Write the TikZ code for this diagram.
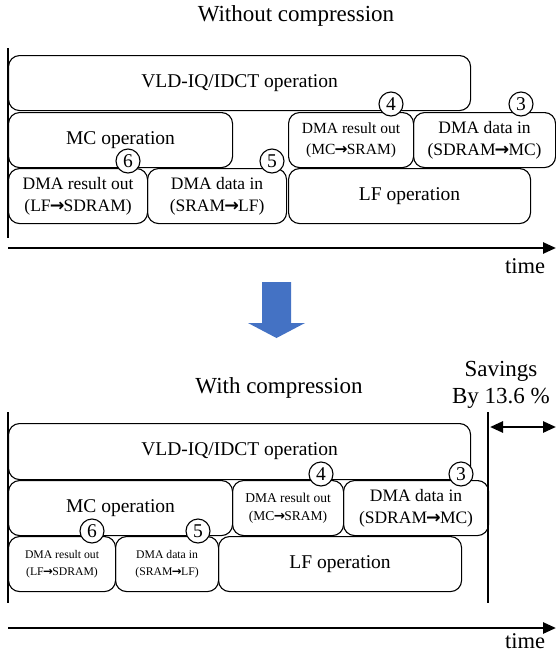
\documentclass[tikz,border=0pt]{standalone}
\usepackage{fontspec}
\setmainfont{Liberation Serif}
\newfontfamily\arrowfamily{DejaVu Sans}
\usetikzlibrary{arrows.meta}

% font sizes (1pt = 1 unit of the drawing grid)
\newcommand\titlefont{\fontsize{23}{27}\selectfont}
\newcommand\bigfont{\fontsize{19.5}{22}\selectfont}
\newcommand\midfont{\fontsize{17.5}{22}\selectfont}
\newcommand\smallfont{\fontsize{15.5}{21}\selectfont}
\newcommand\smallerfont{\fontsize{13.5}{18}\selectfont}
\newcommand\tinyfont{\fontsize{11.7}{16.5}\selectfont}
% bold transfer arrow used inside the DMA labels
\newcommand\xfer{{\arrowfamily\bfseries\kern-0.05em→\kern-0.05em}}

\definecolor{arrowblue}{HTML}{4472C4}

\tikzset{
  opbox/.style={draw, line width=1.1pt, rounded corners=11pt, inner sep=0pt,
                align=center, anchor=north west, minimum height=55pt},
  numring/.style={circle, draw, line width=1.1pt, fill=white, inner sep=0pt,
                  minimum size=24pt, font=\fontsize{19.5}{19.5}\selectfont},
  axisline/.style={line width=2pt},
  timeaxis/.style={line width=2.6pt, -{Triangle[length=13pt,width=11pt]}},
  spanarrow/.style={line width=2.6pt, {Triangle[length=13pt,width=11pt]}-{Triangle[length=13pt,width=11pt]}},
}

\begin{document}
\begin{tikzpicture}[x=1pt, y=-1pt]
\useasboundingbox (0,0) rectangle (556,654);

% ---------------- schedule without compression ----------------
\node[anchor=base, font=\titlefont] (ttlA) at (296,21) {Without compression};

\node[opbox, minimum width=462pt, font=\bigfont] (vldA) at (8,55) {VLD-IQ/IDCT operation};
\node[opbox, minimum width=224pt, font=\bigfont] (mcA) at (8,112) {MC operation};
\node[opbox, minimum width=125pt, font=\smallfont] (outA) at (288,112) {DMA result out\\(MC\xfer SRAM)};
\node[opbox, minimum width=142pt, font=\midfont] (inA) at (413,112) {DMA data in\\(SDRAM\xfer MC)};
\node[opbox, minimum width=139pt, font=\midfont] (lfoutA) at (8,168) {DMA result out\\(LF\xfer SDRAM)};
\node[opbox, minimum width=139pt, font=\midfont] (lfinA) at (147,168) {DMA data in\\(SRAM\xfer LF)};
\node[opbox, minimum width=242pt, font=\bigfont] (lfA) at (288,168) {LF operation};

\node[numring] (nA4) at (391,104) {4};
\node[numring] (nA3) at (521,104) {3};
\node[numring] (nA6) at (128,161) {6};
\node[numring] (nA5) at (272,161) {5};

\coordinate (axA0) at (8,48);
\coordinate (axA1) at (8,238);
\draw[axisline] (axA0) -- (axA1);
\coordinate (tA0) at (8,248);
\coordinate (tA1) at (556,248);
\draw[timeaxis] (tA0) -- (tA1);
\node[anchor=base, font=\fontsize{22.5}{26}\selectfont] (timeA) at (525,273) {time};

% ---------------- transition arrow ----------------
\fill[arrowblue] (262,282) -- (291,282) -- (291,323) -- (305,323) -- (276.5,338)
  -- (248,323) -- (262,323) -- cycle;

% ---------------- schedule with compression ----------------
\node[anchor=base, font=\titlefont] (ttlB) at (279,393) {With compression};
\node[anchor=north, align=center, inner sep=0pt, font=\fontsize{23}{27}\selectfont]
  (save) at (501,361) {Savings\\By 13.6 \%};

\node[opbox, minimum width=462pt, minimum height=56pt, font=\bigfont] (vldB) at (8,423)
  {\raisebox{-6pt}{VLD-IQ/IDCT operation}};
\node[opbox, minimum width=224pt, font=\bigfont] (mcB) at (8,480) {MC operation};
\node[opbox, minimum width=111pt, font=\smallerfont] (outB) at (232,480) {DMA result out\\(MC\xfer SRAM)};
\node[opbox, minimum width=145pt, font=\midfont] (inB) at (343,480) {DMA data in\\(SDRAM\xfer MC)};
\node[opbox, minimum width=107pt, font=\tinyfont] (lfoutB) at (8,536) {DMA result out\\(LF\xfer SDRAM)};
\node[opbox, minimum width=103pt, font=\tinyfont] (lfinB) at (115,536) {DMA data in\\(SRAM\xfer LF)};
\node[opbox, minimum width=243pt, font=\bigfont] (lfB) at (218,536) {LF operation};

\node[numring] (nB4) at (321,474) {4};
\node[numring] (nB3) at (461,474) {3};
\node[numring] (nB6) at (92,531) {6};
\node[numring] (nB5) at (198,531) {5};

\coordinate (axB0) at (8,412);
\coordinate (axB1) at (8,603);
\draw[axisline] (axB0) -- (axB1);
\coordinate (endB0) at (488,412);
\coordinate (endB1) at (488,603);
\draw[axisline] (endB0) -- (endB1);
\coordinate (sv0) at (490,427);
\coordinate (sv1) at (556,427);
\draw[spanarrow] (sv0) -- (sv1);
\coordinate (tB0) at (8,628);
\coordinate (tB1) at (556,628);
\draw[timeaxis] (tB0) -- (tB1);
\node[anchor=base, font=\fontsize{22.5}{26}\selectfont] (timeB) at (525,648) {time};
\end{tikzpicture}
\end{document}
